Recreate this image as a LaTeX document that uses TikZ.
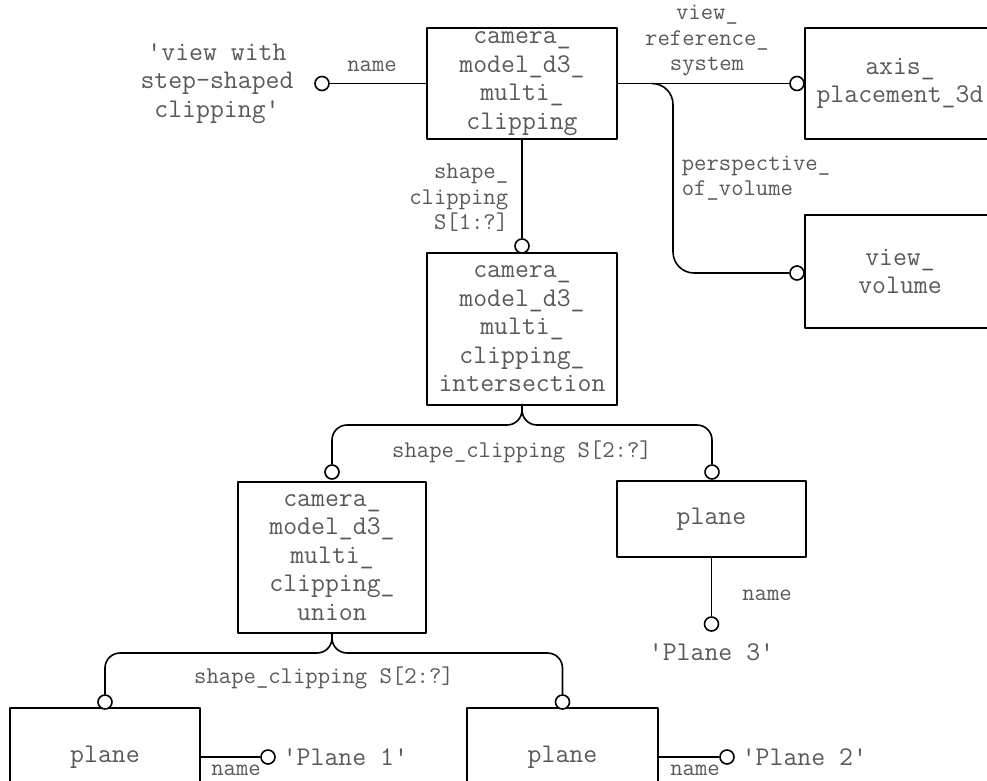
\documentclass[tikz,border=0pt]{standalone}
\begin{document}
\begin{tikzpicture}[x=1pt,y=-1pt,line width=1.6pt,line join=round,
	box/.style={draw,inner sep=0pt,align=center,text=black!65,font=\ttfamily\fontsize{27}{28.5}\selectfont},
	val/.style={inner sep=0pt,align=center,text=black!65,font=\ttfamily\fontsize{27}{28.5}\selectfont},
	lbl/.style={inner sep=0pt,text=black!65,font=\ttfamily\fontsize{24}{25.5}\selectfont},
	ring/.style={circle,draw,fill=white,inner sep=0pt,minimum size=14pt}]
	\useasboundingbox (0,0) rectangle (987,780);
	\clip (0,0) rectangle (987,780);
	% entities
	\node[box,minimum width=190pt,minimum height=111pt] (cm) at (522,83.5) {camera\_\\model\_d3\_\\multi\_\\clipping};
	\node[box,minimum width=190pt,minimum height=111pt] (ax) at (900,83.5) {axis\_\\placement\_3d};
	\node[box,minimum width=190pt,minimum height=113pt] (vv) at (900,271.5) {view\_\\volume};
	\node[box,minimum width=190pt,minimum height=152pt] (ci) at (522,329) {camera\_\\model\_d3\_\\multi\_\\clipping\_\\intersection};
	\node[box,minimum width=188pt,minimum height=151pt] (cu) at (332,557.5) {camera\_\\model\_d3\_\\multi\_\\clipping\_\\union};
	\node[box,minimum width=189pt,minimum height=76pt] (pl3) at (711.5,519) {plane};
	\node[box,minimum width=190pt,minimum height=98pt] (pl1) at (105,757) {plane};
	\node[box,minimum width=191pt,minimum height=98pt] (pl2) at (562.5,757) {plane};
	% rings
	\node[ring] (r0) at (322,83.5) {};
	\node[ring] (r1) at (522,246) {};
	\node[ring] (r2) at (332,472) {};
	\node[ring] (r3) at (712,472) {};
	\node[ring] (r4) at (797,83.5) {};
	\node[ring] (r5) at (797,273) {};
	\node[ring] (r6) at (711.5,624) {};
	\node[ring] (r7) at (105,702) {};
	\node[ring] (r8) at (562.5,702) {};
	\node[ring] (r9) at (268,757) {};
	\node[ring] (r10) at (727,757) {};
	% relations
	\draw (r0.east) -- (cm.west);
	\draw (cm.south) -- (r1.north);
	\draw (cm.east) -- (r4.west);
	\coordinate (br) at (652,83.5);
	\draw[rounded corners=21pt] (br) -- (673,83.5) -- (673,273) -- (r5.west);
	\coordinate (j1) at (522,425);
	\draw[rounded corners=15pt] (ci.south) -- (j1) -- (r2 |- j1) -- (r2.north);
	\draw[rounded corners=15pt] (ci.south) -- (j1) -- (r3 |- j1) -- (r3.north);
	\coordinate (j2) at (332,653);
	\draw[rounded corners=15pt] (cu.south) -- (j2) -- (r7 |- j2) -- (r7.north);
	\draw[rounded corners=15pt] (cu.south) -- (j2) -- (r8 |- j2) -- (r8.north);
	\draw (pl3.south) -- (r6.north);
	\draw (pl1.east) -- (r9.west);
	\draw (pl2.east) -- (r10.west);
	% values
	\node[val] (v0) at (217,83.5) {'view with\\step-shaped\\clipping'};
	\node[val] (v3) at (711.5,652) {'Plane 3'};
	\node[val,anchor=west] (v1) at (282,757) {'Plane 1'};
	\node[val,anchor=west] (v2) at (741,757) {'Plane 2'};
	% attribute labels
	\node[lbl] (a0) at (372,66) {name};
	\node[lbl,align=center] (a1) at (707,41) {view\_\\reference\_\\system};
	\node[lbl,align=left,anchor=west] (a2) at (681,178) {perspective\_\\of\_volume};
	\node[lbl,align=right,anchor=east] (a3) at (509,198) {shape\_\\clipping\\S[1:?]};
	\node[lbl] (a4) at (522,452) {shape\_clipping S[2:?]};
	\node[lbl] (a5) at (324,678) {shape\_clipping S[2:?]};
	\node[lbl] (a6) at (767,595) {name};
	\node[lbl] (a7) at (236,770) {name};
	\node[lbl] (a8) at (695,770) {name};
\end{tikzpicture}
\end{document}
